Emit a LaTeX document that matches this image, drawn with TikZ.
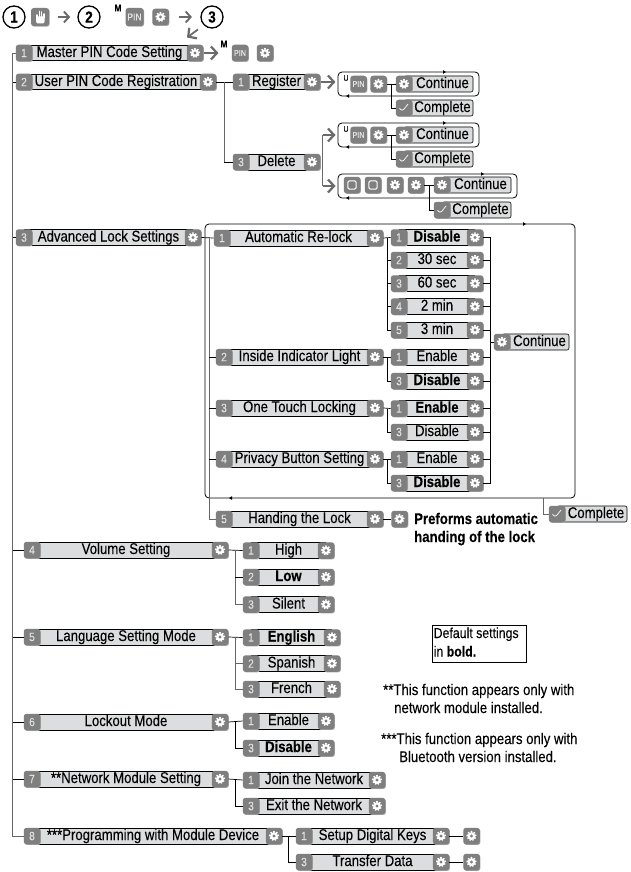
\documentclass[tikz,border=0pt]{standalone}
\usepackage{fontspec}
\setmainfont[FakeStretch=0.85,FakeBold=0.12]{Liberation Sans}
\usetikzlibrary{arrows.meta,calc}
\definecolor{keygray}{HTML}{7F7F7F}
\definecolor{bodygray}{HTML}{DCDDDE}
\definecolor{armgray}{HTML}{6A6A6A}
\newcommand{\tfont}{\fontsize{15.5}{15.5}\selectfont}
\tikzset{
 wire/.style={draw=black,line width=0.7pt},
 lwire/.style={draw=black!60,line width=0.9pt},
 keybox/.style={fill=keygray,rounded corners=2.8pt,minimum width=16.5pt,minimum height=16.5pt,inner sep=0pt,
   preaction={fill=black!35,transform canvas={shift={(0.7,0.7)}}}},
 numkey/.style={keybox,text=black!12,font=\fontsize{12}{12}\selectfont},
 gearkey/.style={keybox,path picture={
   \fill[white] (path picture bounding box.center) circle (3.9pt);
   \draw[white,line width=1.4pt,dash pattern=on 1.5pt off 1.5pt] (path picture bounding box.center) circle (4.4pt);
   \fill[keygray] (path picture bounding box.center) circle (1.7pt);}},
 checkkey/.style={keybox,path picture={
   \draw[white,line width=0.7pt] ($(path picture bounding box.center)+(-4.5,0)$) -- ++(2.5,3.5) -- ++(6,-7.5);}},
 squarekey/.style={keybox,path picture={
   \draw[white,line width=1pt,rounded corners=1.5pt] ($(path picture bounding box.center)+(-4.2,-4.2)$) rectangle ++(8.4,8.4);}},
 pinkey/.style={keybox,text=black!10,font=\fontsize{10}{10}\selectfont},
 rowbody/.style={fill=bodygray,inner sep=0pt,minimum height=15.5pt,text height=10.5pt,text depth=2.5pt,font=\tfont,text=black},
 tagbody/.style={fill=bodygray,draw=black,line width=0.6pt,rounded corners=2pt,inner sep=0pt,minimum height=16pt},
 tagtext/.style={inner sep=0pt,text height=10.5pt,text depth=2.5pt,font=\tfont,text=black},
 garrow/.style={draw=armgray,line width=1.8pt,-{Straight Barb[length=6pt,width=13pt,line width=2.2pt]}},
 harrow/.style={draw=armgray,line width=1.5pt,-{Straight Barb[length=5pt,width=11pt,line width=1.9pt]}},
 framebox/.style={draw=black,line width=0.8pt,rounded corners=4pt,inner sep=0pt},
 stepcircle/.style={circle,draw=black,line width=1.3pt,minimum size=22pt,inner sep=0pt,font=\bfseries\fontsize{16}{16}\selectfont},
 plain/.style={inner sep=0pt,anchor=west,text height=10.5pt,text depth=2.5pt,font=\tfont},
 tiny/.style={inner sep=0pt,font=\bfseries\fontsize{10}{10}\selectfont}
}
% id, left, right, y, number, text
\newcommand{\mrow}[6]{
  \pgfmathsetmacro{\ca}{#2+8}\pgfmathsetmacro{\cb}{#3-8}
  \pgfmathsetmacro{\cm}{(#2+#3)/2}\pgfmathsetmacro{\cw}{#3-#2-16}
  \node[rowbody,minimum width=\cw pt] (#1t) at (\cm,#4) {#6};
  \draw[wire,line width=0.9pt] (#1t.north west) -- (#1t.north east);
  \draw[wire,line width=0.9pt] (#1t.south west) -- (#1t.south east);
  \node[numkey] (#1n) at (\ca,#4) {#5};
  \node[gearkey] (#1g) at (\cb,#4) {};
}
% id, left, right, y, style, text
\newcommand{\tagrow}[6]{
  \pgfmathsetmacro{\ca}{#2+8}
  \pgfmathsetmacro{\cw}{#3-#2-8}
  \pgfmathsetmacro{\ct}{(#2+#3+16)/2}
  \node[tagbody,minimum width=\cw pt] (#1t) at ($(#3,#4)+(-\cw/2,0)$) {};
  \node[tagtext] (#1x) at (\ct,#4) {#6};
  \node[#5] (#1g) at (\ca,#4) {};
}
\newcommand{\marker}[3]{\fill[black] (#1,#2) -- ++(-#3*3,1.8) -- ++(0,-3.6) -- cycle;}
\begin{document}
\begin{tikzpicture}[x=1pt,y=-1pt]
\useasboundingbox (0,0) rectangle (631,872);
\fill[white] (0,0) rectangle (631,872);
% header
\node[stepcircle] (c1) at (14,17) {1};
\node[keybox,minimum width=18pt,minimum height=18pt] (hand) at (40,17) {};
\draw[white,line width=1.6pt,line cap=round] (37,15) -- (37,18) (39.3,11.5) -- (39.3,18) (41.6,12) -- (41.6,18) (43.8,14) -- (43.8,18);
\fill[white,rounded corners=1.5pt] (36.2,16.5) rectangle (44.6,23.5);
\node[stepcircle] (c2) at (89,17) {2};
\node[tiny] (mh) at (118,8) {M};
\node[pinkey,minimum width=18pt,minimum height=18pt] (pinh) at (134.5,17) {PIN};
\node[gearkey] (gh) at (160.5,17) {};
\node[stepcircle] (c3) at (212,17) {3};
\draw[harrow] (hand.east) ++(9,0) -- ++(12,0);
\draw[harrow] (gh.east) ++(10,0) -- ++(13,0);
\coordinate (dgs) at (198,29.5);
\coordinate (dge) at (187,37.5);
\draw[garrow] (dgs) -- (dge);
% trunk
\coordinate (trunk) at (12.5,53);
% main rows
\mrow{ra}{16}{203}{53}{1}{Master PIN Code Setting}
\mrow{rb}{16}{216}{82}{2}{User PIN Code Registration}
\mrow{rc}{16}{201}{237.5}{3}{Advanced Lock Settings}
\mrow{rd}{24}{228}{550}{4}{Volume Setting}
\mrow{re}{24}{228}{637}{5}{Language Setting Mode}
\mrow{rf}{24}{228}{722}{6}{Lockout Mode}
\mrow{rg}{24}{228}{779}{7}{**Network Module Setting}
\mrow{rh}{24}{282}{836}{8}{***Programming with Module Device}
\draw[lwire] (ran.west) -- (ran.west -| trunk) -- (rhn.west -| trunk) -- (rhn.west);
\foreach \r in {rb,rc,rd,re,rf,rg}{\draw[wire] (\r n.west) -- (\r n.west -| trunk);}
% master arrow
\node[tiny] (mm) at (224,44) {M};
\node[pinkey,font=\fontsize{8.5}{8.5}\selectfont] (pinm) at (240,53) {PIN};
\node[gearkey] (gm) at (265,53) {};
\draw[garrow] (rag.east) ++(1,0) -- ++(14,0);
% registration
\mrow{sa}{233}{320}{82}{1}{Register}
\mrow{sb}{233}{320}{162}{3}{Delete}
\coordinate (regbr) at (224,82);
\draw[wire] (rbg.east) -- (san.west);
\draw[lwire,line width=0.7pt] (regbr) -- (regbr |- sbn.west);
\draw[wire] (regbr |- sbn.west) -- (sbn.west);
% frame 1
\node[framebox,minimum width=141pt,minimum height=24pt] (fa) at (408.5,84) {};
\marker{446}{72}{1}\marker{346}{96}{-1}
\draw[garrow] (sag.east) ++(1,0) -- ++(14,0);
\node[inner sep=0pt,font=\fontsize{8}{8}\selectfont] (ua) at (346,78) {U};
\node[pinkey,font=\fontsize{8.5}{8.5}\selectfont] (pa) at (358.5,84) {PIN};
\node[gearkey] (ga) at (378.5,84) {};
\tagrow{ca}{396}{473}{84}{gearkey}{Continue}
\tagrow{cb}{396}{473}{108}{checkkey}{Complete}
\coordinate (bra) at (391,84);
\draw[wire] (ga.east) -- (cag.west);
\draw[wire] (bra) |- (cbg.west);
% frame 2
\node[framebox,minimum width=141pt,minimum height=24pt] (fb) at (408.5,135) {};
\marker{446}{123}{1}\marker{346}{147}{-1}
\node[inner sep=0pt,font=\fontsize{8}{8}\selectfont] (ub) at (346,129) {U};
\node[pinkey,font=\fontsize{8.5}{8.5}\selectfont] (pb) at (358.5,135) {PIN};
\node[gearkey] (gb) at (378.5,135) {};
\tagrow{cc}{396}{473}{135}{gearkey}{Continue}
\tagrow{cd}{396}{473}{159}{checkkey}{Complete}
\coordinate (brb) at (391,135);
\draw[wire] (gb.east) -- (ccg.west);
\draw[wire] (brb) |- (cdg.west);
% frame 3
\node[framebox,minimum width=179pt,minimum height=24pt] (fc) at (427.5,186) {};
\marker{484}{174}{1}\marker{346}{198}{-1}
\node[squarekey] (qa) at (352,185) {};
\node[squarekey] (qb) at (373,185) {};
\node[gearkey] (gc) at (395,185) {};
\node[gearkey] (gd) at (416,185) {};
\tagrow{ce}{434}{511}{185}{gearkey}{Continue}
\tagrow{cf}{434}{511}{210}{checkkey}{Complete}
\coordinate (brc) at (429,185);
\draw[wire] (gd.east) -- (ceg.west);
\draw[wire] (brc) |- (cfg.west);
% delete fork
\coordinate (fork) at (322.5,161);
\draw[draw=armgray,line width=1.8pt] (fork |- fb.west) -- (fork |- fc.west);
\draw[garrow] (fork |- fb.west) -- ++(13,0);
\draw[garrow] (fork |- fc.west) -- ++(13,0);
% advanced frame
\node[framebox,minimum width=370pt,minimum height=274pt] (big) at (390,361) {};
\marker{526}{224}{1}\marker{229}{498}{-1}
\coordinate (innr) at (209,238);
\mrow{ta}{214}{383}{238}{1}{Automatic Re-lock}
\mrow{tb}{216}{383}{357}{2}{Inside Indicator Light}
\mrow{tc}{216}{383}{408}{3}{One Touch Locking}
\mrow{td}{216}{383}{459}{4}{Privacy Button Setting}
\mrow{te}{216}{383}{519}{5}{Handing the Lock}
\draw[wire] (rcg.east) -- (tan.west);
\draw[lwire] (innr) -- (innr |- ten.west) -- (ten.west);
\foreach \r in {tb,tc,td}{\draw[wire] (\r n.west) -- (\r n.west -| innr);}
\node[gearkey] (tg) at (399.5,519) {};
\draw[wire] (teg.east) -- (tg.west);
\node[plain,font=\bfseries\tfont] (hta) at (414,520) {Preforms automatic};
\node[plain,font=\bfseries\tfont] (htb) at (414,538) {handing of the lock};
% option rows
\mrow{oa}{391}{483}{237.5}{1}{\textbf{Disable}}
\mrow{ob}{391}{483}{260}{2}{30 sec}
\mrow{oc}{391}{483}{283.5}{3}{60 sec}
\mrow{od}{391}{483}{306.5}{4}{2 min}
\mrow{oe}{391}{483}{330}{5}{3 min}
\mrow{of}{391}{483}{357}{1}{Enable}
\mrow{og}{391}{483}{381}{3}{\textbf{Disable}}
\mrow{oh}{391}{483}{408.5}{1}{\textbf{Enable}}
\mrow{oi}{391}{483}{432}{3}{Disable}
\mrow{oj}{391}{483}{459}{1}{Enable}
\mrow{ok}{391}{483}{483}{3}{\textbf{Disable}}
\coordinate (bro) at (387,238);
\coordinate (brr) at (490.5,238);
\draw[wire] (tag.east) -- (oan.west);
\draw[wire] (bro) -- (bro |- oen.west) -- (oen.west);
\foreach \r in {ob,oc,od}{\draw[wire] (\r n.west) -- (\r n.west -| bro);}
\draw[wire] (tbg.east) -- (ofn.west);
\draw[wire] (bro |- ofn.west) |- (ogn.west);
\draw[wire] (tcg.east) -- (ohn.west);
\draw[wire] (bro |- ohn.west) |- (oin.west);
\draw[wire] (tdg.east) -- (ojn.west);
\draw[wire] (bro |- ojn.west) |- (okn.west);
\draw[wire] (oag.east) -- (oag.east -| brr) -- (okg.east -| brr) -- (okg.east);
\foreach \r in {ob,oc,od,oe,of,og,oh,oi,oj}{\draw[wire] (\r g.east) -- (\r g.east -| brr);}
\tagrow{cg}{494}{569}{342}{gearkey}{Continue}
\draw[wire] (brr |- cgg.west) -- (cgg.west);
% complete
\tagrow{ch}{549}{627}{514}{checkkey}{Complete}
\coordinate (cbr) at (543.5,498);
\draw[lwire,line width=0.7pt] (cbr) |- (chg.west);
% volume
\mrow{va}{243}{334}{550.5}{1}{High}
\mrow{vb}{243}{334}{577}{2}{\textbf{Low}}
\mrow{vc}{243}{334}{604.5}{3}{Silent}
\coordinate (bv) at (235,550);
\draw[wire] (rdg.east) -- (van.west);
\draw[lwire] (bv) -- (bv |- vcn.west) -- (vcn.west);
\draw[wire] (vbn.west) -- (vbn.west -| bv);
% language
\mrow{la}{243}{340}{637.5}{1}{\textbf{English}}
\mrow{lb}{243}{340}{663.5}{2}{Spanish}
\mrow{lc}{243}{340}{689}{3}{French}
\draw[wire] (reg.east) -- (lan.west);
\coordinate (bl) at (235,637);
\draw[lwire] (bl) -- (bl |- lcn.west) -- (lcn.west);
\draw[lwire] (lbn.west) -- (lbn.west -| bl);
% lockout
\mrow{ma}{243}{334}{721}{1}{Enable}
\mrow{mb}{243}{334}{748}{3}{\textbf{Disable}}
\draw[wire] (rfg.east) -- (man.west);
\coordinate (bm) at (235,721);
\draw[wire] (bm) |- (mbn.west);
% network
\mrow{na}{243}{385}{780}{1}{Join the Network}
\mrow{nb}{243}{385}{806}{3}{Exit the Network}
\draw[wire] (rgg.east) -- (nan.west);
\coordinate (bn) at (235,780);
\draw[wire] (bn) |- (nbn.west);
% programming
\mrow{pa}{296}{449}{836}{1}{Setup Digital Keys}
\mrow{pb}{296}{449}{862}{3}{Transfer Data}
\node[gearkey] (pga) at (471.5,836) {};
\node[gearkey] (pgb) at (471.5,862) {};
\draw[wire] (rhg.east) -- (pan.west);
\coordinate (bp) at (288,836);
\draw[wire] (bp) |- (pbn.west);
\draw[wire] (pag.east) -- (pga.west);
\draw[wire] (pbg.east) -- (pgb.west);
% notes
\node[draw=black,line width=0.8pt,inner sep=0pt,minimum width=94pt,minimum height=37pt] (dbox) at (479,643.5) {};
\node[plain,font=\fontsize{14.5}{14.5}\selectfont] (da) at (433.5,634) {Default settings};
\node[plain,font=\fontsize{14.5}{14.5}\selectfont] (db) at (433.5,652.5) {in \textbf{bold.}};
\node[plain] (na1) at (383,691) {**This function appears only with};
\node[plain] (na2) at (394,709) {network module installed.};
\node[plain] (nb1) at (381,740) {***This function appears only with};
\node[plain] (nb2) at (399,758) {Bluetooth version installed.};
\end{tikzpicture}
\end{document}
